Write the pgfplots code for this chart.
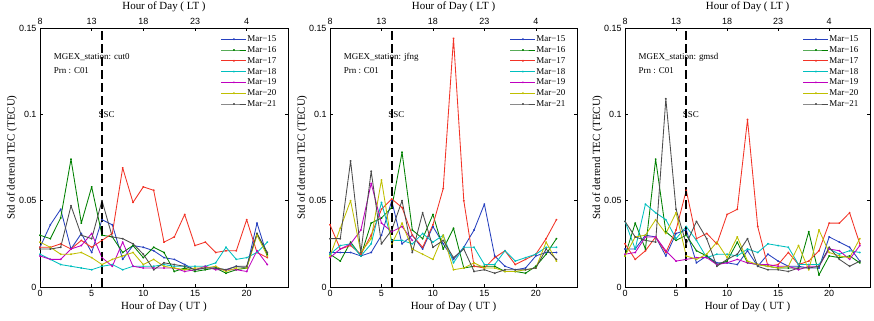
\documentclass[border=0pt]{standalone}
\usepackage{fontspec}
\setmainfont{Liberation Serif}
\newfontfamily\tickfont{Liberation Sans}
\usepackage{pgfplots}
\usepackage{pgfplotstable}
\pgfplotsset{compat=1.18}

\definecolor{c15}{rgb}{0.15,0.25,0.75}
\definecolor{c16}{rgb}{0.0,0.5,0.0}
\definecolor{c17}{rgb}{0.95,0.2,0.15}
\definecolor{c18}{rgb}{0.0,0.75,0.75}
\definecolor{c19}{rgb}{0.75,0.0,0.75}
\definecolor{c20}{rgb}{0.75,0.75,0.0}
\definecolor{c21}{rgb}{0.3,0.3,0.3}

\pgfplotstableread{
h m15 m16 m17 m18 m19 m20 m21
0 0.023 0.030 0.023 0.019 0.018 0.026 0.022
1 0.036 0.028 0.023 0.016 0.016 0.023 0.022
2 0.045 0.040 0.025 0.013 0.016 0.019 0.023
3 0.022 0.074 0.022 0.012 0.022 0.019 0.047
4 0.031 0.037 0.027 0.011 0.024 0.020 0.030
5 0.020 0.058 0.023 0.010 0.031 0.017 0.028
6 0.039 0.030 0.027 0.012 0.017 0.013 0.050
7 0.036 0.029 0.031 0.013 0.012 0.016 0.029
8 0.016 0.020 0.069 0.010 0.026 0.018 0.028
9 0.024 0.024 0.049 0.012 0.012 0.020 0.025
10 0.023 0.017 0.058 0.012 0.011 0.013 0.019
11 0.021 0.023 0.056 0.012 0.011 0.016 0.010
12 0.017 0.020 0.026 0.013 0.011 0.012 0.014
13 0.016 0.009 0.029 0.012 0.011 0.011 0.013
14 0.013 0.011 0.042 0.012 0.009 0.010 0.012
15 0.010 0.009 0.024 0.012 0.010 0.011 0.010
16 0.011 0.010 0.026 0.012 0.012 0.011 0.011
17 0.011 0.011 0.020 0.014 0.010 0.012 0.011
18 0.010 0.008 0.021 0.023 0.010 0.009 0.010
19 0.012 0.010 0.021 0.016 0.010 0.011 0.012
20 0.011 0.011 0.039 0.017 0.009 0.011 0.012
21 0.037 0.031 0.020 0.020 0.021 0.030 0.031
22 0.018 0.019 0.017 0.026 0.013 0.018 0.020
}\cutdata

\pgfplotstableread{
h m15 m16 m17 m18 m19 m20 m21
0 0.020 0.019 0.036 0.019 0.017 0.018 0.028
1 0.020 0.015 0.022 0.024 0.022 0.034 0.028
2 0.020 0.026 0.024 0.025 0.025 0.050 0.073
3 0.018 0.018 0.019 0.018 0.033 0.020 0.020
4 0.020 0.037 0.030 0.025 0.060 0.028 0.067
5 0.030 0.040 0.045 0.049 0.037 0.062 0.025
6 0.050 0.046 0.051 0.027 0.032 0.025 0.033
7 0.025 0.078 0.046 0.027 0.035 0.037 0.050
8 0.030 0.033 0.030 0.025 0.027 0.022 0.020
9 0.022 0.028 0.023 0.031 nan 0.019 0.043
10 0.035 0.042 0.036 0.026 nan 0.016 0.023
11 0.025 0.022 0.057 0.030 nan 0.030 0.027
12 0.016 0.034 0.144 0.014 nan 0.010 0.017
13 0.023 0.011 0.050 0.023 nan 0.011 0.022
14 0.033 0.012 0.012 0.023 nan 0.014 0.009
15 0.048 0.012 0.011 0.013 nan 0.011 0.010
16 0.018 0.012 0.017 0.013 nan 0.011 0.008
17 0.012 0.009 0.021 0.021 nan 0.009 0.010
18 0.010 0.009 0.013 0.015 nan 0.009 0.010
19 0.011 0.008 0.016 0.017 nan 0.010 0.010
20 0.018 0.012 0.019 0.019 nan 0.011 0.011
21 0.020 0.019 0.028 0.023 nan 0.026 0.022
22 0.020 0.028 0.039 0.023 nan 0.015 0.016
}\jfngdata

\pgfplotstableread{
h m15 m16 m17 m18 m19 m20 m21
0 0.022 0.018 0.025 0.038 0.019 0.018 0.038
1 0.022 0.037 0.016 0.022 0.020 0.029 0.029
2 0.030 0.022 0.021 0.048 0.029 0.030 0.027
3 0.029 0.074 0.029 0.043 0.029 0.039 0.026
4 0.018 0.032 0.020 0.039 0.021 0.031 0.109
5 0.031 0.027 0.033 0.028 0.015 0.043 0.045
6 0.033 0.030 0.056 0.035 0.016 0.018 0.025
7 0.014 0.021 0.028 0.027 0.017 0.016 0.038
8 0.018 0.018 0.031 0.017 0.017 0.019 0.028
9 0.014 0.013 0.025 0.019 0.013 0.026 0.012
10 0.014 0.015 0.042 0.019 0.014 0.017 0.016
11 0.013 0.026 0.045 0.018 0.016 0.029 0.019
12 0.021 0.014 0.097 0.022 0.014 0.015 0.028
13 0.012 0.013 0.035 0.020 0.013 0.013 0.012
14 0.019 0.012 0.012 0.025 0.013 0.012 0.010
15 0.015 0.011 0.013 0.024 0.012 0.011 0.010
16 0.012 0.011 0.020 0.023 0.012 0.012 0.009
17 0.012 0.011 0.013 0.013 0.010 0.024 0.011
18 0.011 0.032 0.015 0.013 0.012 0.010 0.011
19 0.011 0.007 0.021 0.013 0.012 0.033 0.012
20 0.029 0.018 0.037 0.022 0.022 0.020 0.023
21 0.026 0.017 0.037 0.019 0.021 0.018 0.016
22 0.023 0.018 0.043 0.021 0.016 0.017 0.012
23 0.015 0.014 0.025 0.020 0.024 0.028 0.015
}\gmsddata

\pgfplotsset{
  base/.style={
    scale only axis, height=259bp,
    xmin=0, xmax=24, ymin=0, ymax=0.15,
    xtick={0,5,10,15,20},
    tick align=inside,
    major tick length=3bp,
    axis line style={line width=0.8bp, black},
    every tick/.style={black, line width=0.6bp},
    tick label style={font=\tickfont\fontsize{9}{9}\selectfont},
    /pgf/number format/assume math mode=true,
    label style={font=\fontsize{11}{11}\selectfont},
  },
  panel/.style={
    base,
    ytick={0,0.05,0.1,0.15},
    yticklabels={0,0.05,0.1,0.15},
    scaled y ticks=false,
    xlabel={Hour of Day ( UT )},
    ylabel={Std of detrend TEC (TECU)},
    xlabel style={at={(axis description cs:0.5,-0.077)}, anchor=center},
    ylabel style={at={(axis description cs:-0.113,0.5)}, anchor=center},
    every axis plot/.append style={line width=0.85bp, line join=round, mark=*, mark size=0.55bp},
    legend cell align=left,
    legend style={at={(axis description cs:1,1)}, anchor=north east,
      xshift=-8bp, yshift=-4bp, draw=none, fill=none,
      font=\fontsize{9}{9}\selectfont,
      nodes={inner sep=0.5bp, text height=7bp, text depth=2bp},
      row sep=0.8bp},
    legend image code/.code={
      \draw[#1, mark repeat=2, mark phase=2] plot coordinates {(0bp,0bp) (12.5bp,0bp) (25bp,0bp)};},
  },
  toppanel/.style={
    base,
    axis x line*=top, axis y line=none,
    tick align=inside,
    xticklabels={8,13,18,23,4},
    xlabel={Hour of Day ( LT )},
    xlabel style={at={(axis description cs:0.5,1.081)}, anchor=center},
  },
}

\newcommand{\series}[1]{%
  \addplot[c15] table[x=h,y=m15] {#1};
  \addplot[c16] table[x=h,y=m16] {#1};
  \addplot[c17] table[x=h,y=m17] {#1};
  \addplot[c18] table[x=h,y=m18] {#1};
  \addplot[c19] table[x=h,y=m19] {#1};
  \addplot[c20] table[x=h,y=m20] {#1};
  \addplot[c21] table[x=h,y=m21] {#1};
  \legend{Mar−15,Mar−16,Mar−17,Mar−18,Mar−19,Mar−20,Mar−21}
  \addplot[black, line width=1.6bp, dash pattern=on 9bp off 4bp, mark=none, forget plot] coordinates {(6,0) (6,0.15)};
  \node[font=\fontsize{9}{9}\selectfont] at (axis cs:6.45,0.1) {SSC};
}

\begin{document}
\begin{tikzpicture}[x=1bp,y=1bp]
\path[use as bounding box] (0,0) rectangle (874,320);

% Panel 1
\begin{axis}[panel, at={(40bp,33bp)}, width=248bp]
\series{\cutdata}
\node[font=\fontsize{9}{9}\selectfont, anchor=west, align=left] at (axis cs:1.0,0.133) {MGEX\_station: cut0};
\node[font=\fontsize{9}{9}\selectfont, anchor=west] at (axis cs:1.0,0.1255) {Prn : C01};
\end{axis}
\begin{axis}[toppanel, at={(40bp,33bp)}, width=248bp]
\addplot[draw=none] coordinates {(0,0)};
\end{axis}

% Panel 2
\begin{axis}[panel, at={(330bp,33bp)}, width=247bp]
\series{\jfngdata}
\node[font=\fontsize{9}{9}\selectfont, anchor=west] at (axis cs:1.0,0.133) {MGEX\_station: jfng};
\node[font=\fontsize{9}{9}\selectfont, anchor=west] at (axis cs:1.0,0.1255) {Prn : C01};
\end{axis}
\begin{axis}[toppanel, at={(330bp,33bp)}, width=247bp]
\addplot[draw=none] coordinates {(0,0)};
\end{axis}

% Panel 3
\begin{axis}[panel, at={(625bp,33bp)}, width=245bp]
\series{\gmsddata}
\node[font=\fontsize{9}{9}\selectfont, anchor=west] at (axis cs:1.0,0.133) {MGEX\_station: gmsd};
\node[font=\fontsize{9}{9}\selectfont, anchor=west] at (axis cs:1.0,0.1255) {Prn : C01};
\end{axis}
\begin{axis}[toppanel, at={(625bp,33bp)}, width=245bp]
\addplot[draw=none] coordinates {(0,0)};
\end{axis}
\end{tikzpicture}
\end{document}
